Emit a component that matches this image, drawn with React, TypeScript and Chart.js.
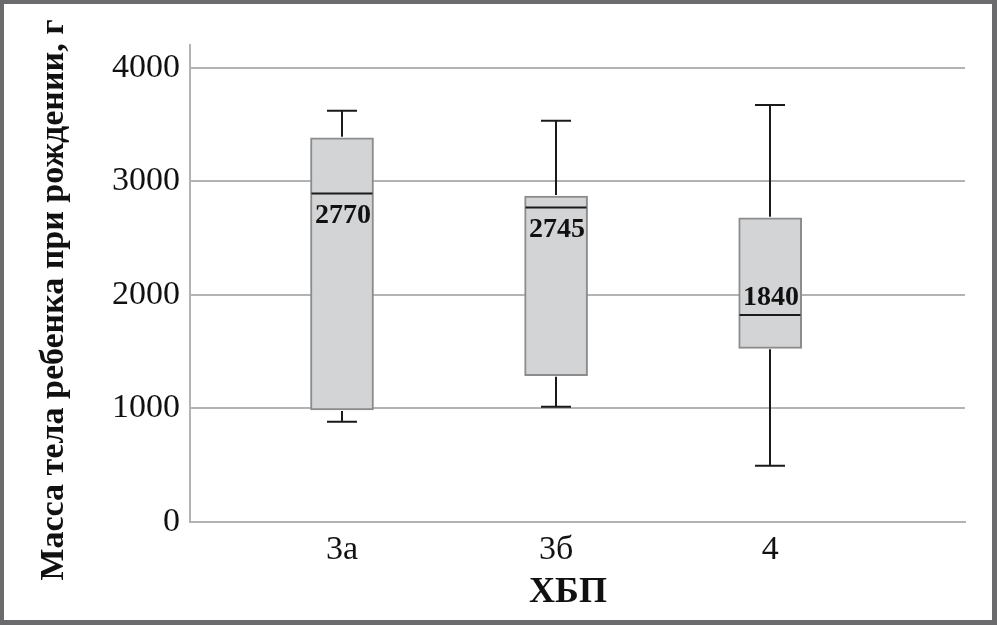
import React, { useEffect, useRef } from 'react';
import { Chart, registerables } from 'chart.js';

Chart.register(...registerables);

// ---- data ----
const categories = ['3а', '3б', '4'];
const positions = [1, 2, 3];
const whiskerMin = [883, 1015, 496];
const q1 = [986, 1288, 1529];
const medians = [2893, 2770, 1822];
const q3 = [3383, 2870, 2679];
const whiskerMax = [3621, 3533, 3671];
const medianLabels = ['2770', '2745', '1840'];
const labelPlacement = ['below', 'below', 'above'];
const yTicks = [0, 1000, 2000, 3000, 4000];
const yTitle = 'Масса тела ребенка при рождении, г';
const xTitle = 'ХБП';

const SERIF = '"Liberation Serif", "Times New Roman", serif';
const GRID = '#b3b3b3';

const boxPlugin = {
  id: 'boxExtras',
  afterDatasetsDraw(chart: any) {
    const { ctx, scales } = chart;
    const xs = scales.x;
    const ys = scales.y;
    const meta = chart.getDatasetMeta(0);
    ctx.save();
    ctx.strokeStyle = '#1a1a1a';
    ctx.lineWidth = 2;
    positions.forEach((p, i) => {
      const cx = Math.round(xs.getPixelForValue(p));
      const el = meta.data[i];
      const half = el.width / 2;
      const capHalf = 15;
      const yMax = ys.getPixelForValue(whiskerMax[i]);
      const yQ3 = ys.getPixelForValue(q3[i]);
      const yQ1 = ys.getPixelForValue(q1[i]);
      const yMin = ys.getPixelForValue(whiskerMin[i]);
      const yMed = ys.getPixelForValue(medians[i]);
      ctx.beginPath();
      ctx.moveTo(cx, yMax);
      ctx.lineTo(cx, yQ3 - 1);
      ctx.moveTo(cx, yQ1 + 1);
      ctx.lineTo(cx, yMin);
      ctx.moveTo(cx - capHalf, yMax);
      ctx.lineTo(cx + capHalf, yMax);
      ctx.moveTo(cx - capHalf, yMin);
      ctx.lineTo(cx + capHalf, yMin);
      ctx.moveTo(cx - half + 1, yMed);
      ctx.lineTo(cx + half - 1, yMed);
      ctx.stroke();

      ctx.fillStyle = '#111';
      ctx.font = `bold 28px ${SERIF}`;
      ctx.textAlign = 'center';
      ctx.textBaseline = 'alphabetic';
      const ty = labelPlacement[i] === 'below' ? yMed + 30 : yMed - 10;
      ctx.fillText(medianLabels[i], cx + 1, ty);
    });
    ctx.restore();
  },
  afterDraw(chart: any) {
    const { ctx } = chart;
    ctx.save();
    ctx.fillStyle = '#111';
    ctx.textAlign = 'center';
    ctx.textBaseline = 'alphabetic';
    ctx.font = `bold 34px ${SERIF}`;
    ctx.translate(63, 300);
    ctx.rotate(-Math.PI / 2);
    ctx.fillText(yTitle, 0, 0);
    ctx.restore();

    ctx.save();
    ctx.fillStyle = '#111';
    ctx.textAlign = 'center';
    ctx.textBaseline = 'alphabetic';
    ctx.font = `bold 36px ${SERIF}`;
    ctx.fillText(xTitle, 568, 602);
    ctx.restore();
  },
};

export default function App() {
  const ref = useRef<HTMLCanvasElement | null>(null);

  useEffect(() => {
    if (!ref.current) return;
    const chart = new Chart(ref.current, {
      type: 'bar',
      data: {
        datasets: [
          {
            data: positions.map((x, i) => ({ x, y: [q1[i], q3[i]] })) as any,
            backgroundColor: '#d3d4d6',
            borderColor: '#8c8c8c',
            borderWidth: 2,
            borderSkipped: false,
            barThickness: 63,
          },
        ],
      },
      options: {
        responsive: false,
        maintainAspectRatio: false,
        animation: false,
        layout: { padding: { left: 0, right: 32, top: 45, bottom: 0 } },
        plugins: {
          legend: { display: false },
          tooltip: { enabled: false },
          title: { display: false },
        },
        scales: {
          x: {
            type: 'linear',
            min: 0.29,
            max: 3.91,
            offset: false,
            grid: { display: false, drawTicks: false, offset: false },
            border: { display: true, color: GRID, width: 2 },
            afterBuildTicks: (axis: any) => {
              axis.ticks = positions.map((v) => ({ value: v }));
            },
            afterFit: (scale: any) => {
              scale.height = 103;
            },
            ticks: {
              autoSkip: false,
              maxRotation: 0,
              padding: 8,
              color: '#111',
              font: { family: SERIF, size: 34 },
              callback: (v: any) => {
                const idx = positions.indexOf(Number(v));
                return idx >= 0 ? categories[idx] : '';
              },
            },
          },
          y: {
            type: 'linear',
            min: 0,
            max: 4200,
            grid: { color: GRID, lineWidth: 2, drawTicks: false },
            border: { display: true, color: GRID, width: 2 },
            afterBuildTicks: (axis: any) => {
              axis.ticks = yTicks.map((v) => ({ value: v }));
            },
            afterFit: (scale: any) => {
              scale.width = 190;
            },
            ticks: {
              padding: 10,
              color: '#111',
              font: { family: SERIF, size: 34 },
              callback: (v: any) => String(v),
            },
          },
        },
      },
      plugins: [boxPlugin],
    });
    return () => chart.destroy();
  }, []);

  return (
    <div style={{ position: 'fixed', left: 0, top: 0, width: 997, height: 625, background: '#fff' }}>
      <canvas ref={ref} width={997} height={625} style={{ position: 'absolute', left: 0, top: 0 }} />
      <div
        style={{
          position: 'absolute',
          left: 0,
          top: 0,
          width: 997,
          height: 625,
          boxSizing: 'border-box',
          borderStyle: 'solid',
          borderColor: '#6b6b6e',
          borderWidth: '4px 5px 5px 4px',
          pointerEvents: 'none',
        }}
      />
    </div>
  );
}
